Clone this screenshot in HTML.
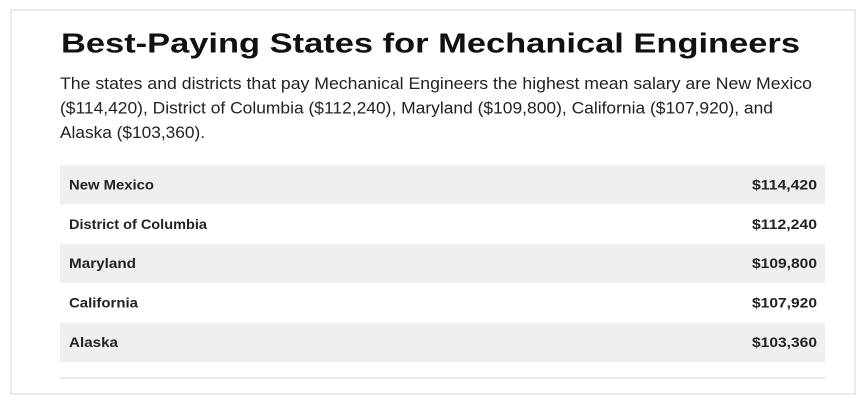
<!DOCTYPE html>
<html>
<head>
<meta charset="utf-8">
<style>
html,body{margin:0;padding:0;background:#fff;}
svg{display:block;}
</style>
</head>
<body>
<svg width="866" height="412" viewBox="0 0 866 412" xmlns="http://www.w3.org/2000/svg">
<rect x="0" y="0" width="866" height="412" fill="#fff"/>
<rect x="11" y="10" width="844" height="384" fill="#fff" stroke="#ebebeb" stroke-width="2"/>
<text x="61" y="52.5" font-family="Liberation Sans, sans-serif" font-weight="bold" font-size="27.5" fill="#111" textLength="739" lengthAdjust="spacingAndGlyphs">Best-Paying States for Mechanical Engineers</text>
<g font-family="Liberation Sans, sans-serif" font-size="17" fill="#222">
<text x="60" y="89" textLength="752" lengthAdjust="spacingAndGlyphs">The states and districts that pay Mechanical Engineers the highest mean salary are New Mexico</text>
<text x="60" y="113.5" textLength="713" lengthAdjust="spacingAndGlyphs">($114,420), District of Columbia ($112,240), Maryland ($109,800), California ($107,920), and</text>
<text x="60" y="138" textLength="145" lengthAdjust="spacingAndGlyphs">Alaska ($103,360).</text>
</g>
<rect x="60" y="165" width="765" height="39.4" fill="#efefef"/>
<rect x="60" y="243.8" width="765" height="39.4" fill="#efefef"/>
<rect x="60" y="322.6" width="765" height="39.4" fill="#efefef"/>
<rect x="60" y="377.5" width="765" height="1.2" fill="#dcdcdc"/>
<g font-family="Liberation Sans, sans-serif" font-weight="bold" font-size="14" fill="#222">
<text x="69" y="189.4" textLength="85" lengthAdjust="spacingAndGlyphs">New Mexico</text>
<text x="69" y="228.8" textLength="138" lengthAdjust="spacingAndGlyphs">District of Columbia</text>
<text x="69" y="268.2" textLength="67" lengthAdjust="spacingAndGlyphs">Maryland</text>
<text x="69" y="307.6" textLength="69" lengthAdjust="spacingAndGlyphs">California</text>
<text x="69" y="347" textLength="49" lengthAdjust="spacingAndGlyphs">Alaska</text>
<text x="817" y="189.4" text-anchor="end" textLength="65" lengthAdjust="spacingAndGlyphs">$114,420</text>
<text x="817" y="228.8" text-anchor="end" textLength="65" lengthAdjust="spacingAndGlyphs">$112,240</text>
<text x="817" y="268.2" text-anchor="end" textLength="65" lengthAdjust="spacingAndGlyphs">$109,800</text>
<text x="817" y="307.6" text-anchor="end" textLength="65" lengthAdjust="spacingAndGlyphs">$107,920</text>
<text x="817" y="347" text-anchor="end" textLength="65" lengthAdjust="spacingAndGlyphs">$103,360</text>
</g>
</svg>
</body>
</html>
